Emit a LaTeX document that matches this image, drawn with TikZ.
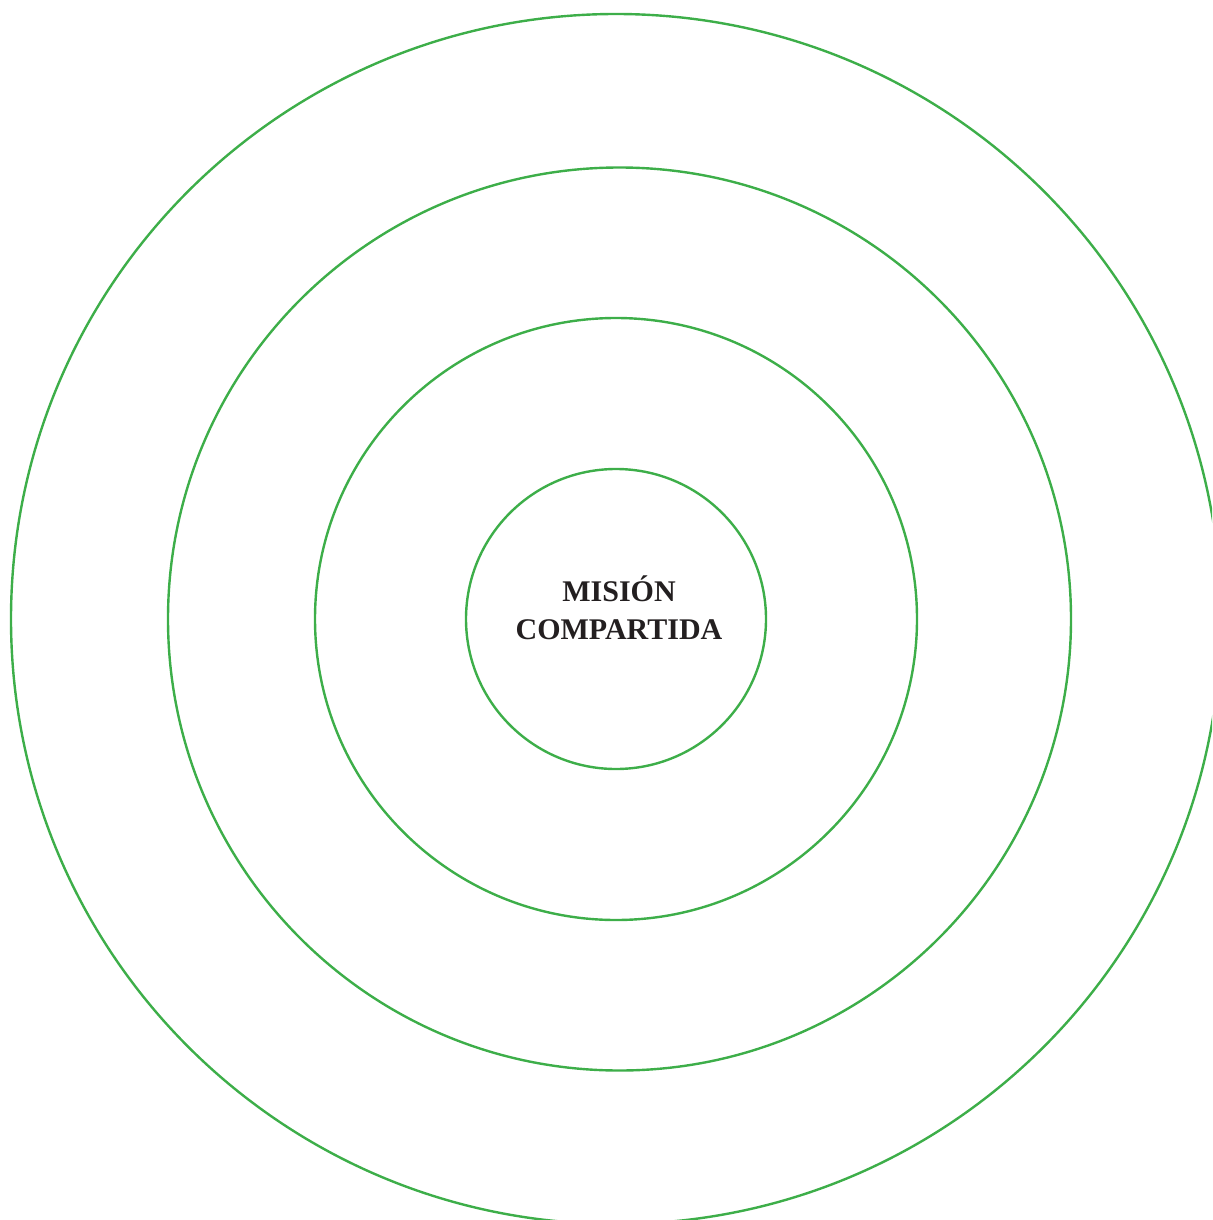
\documentclass[tikz,border=0pt]{standalone}
\usepackage{fontspec}
\setmainfont{Liberation Serif}
\definecolor{ring}{HTML}{3DAE49}
\definecolor{txt}{HTML}{231F20}
\begin{document}
\begin{tikzpicture}[x=1pt,y=-1pt,
  ringstyle/.style={draw=ring,line width=2.4pt,circle,minimum size=#1,inner sep=0pt}]
\useasboundingbox (0,0) rectangle (1212,1220);
\clip (0,0) rectangle (1212,1220);
\coordinate (c) at (616,619);
\coordinate (c3) at (619.5,619);
\node[ringstyle=1210pt] (r4) at (c) {};
\node[ringstyle=903pt] (r3) at (c3) {};
\node[ringstyle=602pt] (r2) at (c) {};
\node[ringstyle=300pt] (r1) at (c) {};
\node[align=center,text=txt,font=\fontsize{30}{38}\selectfont\bfseries] (t) at (619,608) {MISIÓN\\COMPARTIDA};
\end{tikzpicture}
\end{document}
